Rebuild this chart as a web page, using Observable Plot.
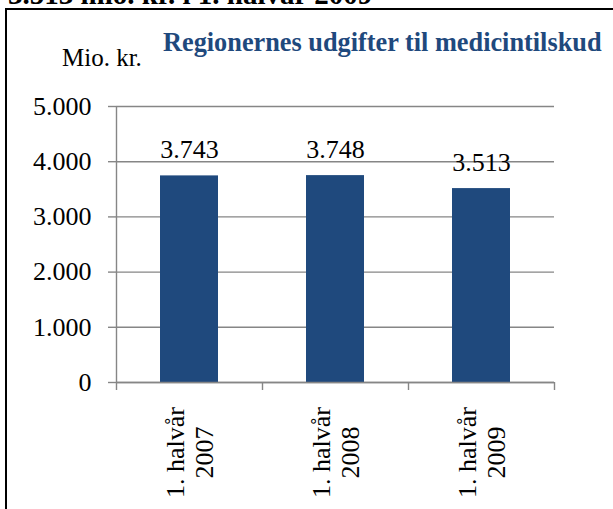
<!DOCTYPE html>
<html>
<head>
<meta charset="utf-8">
<script src="https://cdn.jsdelivr.net/npm/d3@7"></script>
<script src="https://cdn.jsdelivr.net/npm/@observablehq/plot@0.6"></script>
<style>
  html, body { margin: 0; padding: 0; background: #fff; }
  #wrap { position: relative; width: 613px; height: 509px; overflow: hidden; font-family: "Liberation Serif", "Times New Roman", serif; }
  #wrap svg { position: absolute; left: 0; top: 0; }
  .abs { position: absolute; white-space: nowrap; }
  #cut { left: 8px; top: -20px; font-size: 29px; font-weight: bold; color: #000; line-height: 1; }
  #border { left: 5px; top: 8px; right: -4px; bottom: -4px; border-top: 2px solid #000; border-left: 2px solid #000; }
  #title { left: 163px; top: 30px; font-size: 26.3px; font-weight: bold; color: #1F497D; line-height: 1; }
  #unit { left: 62px; top: 45px; font-size: 25px; color: #000; line-height: 1; }
</style>
</head>
<body>
<div id="wrap">
  <div id="cut" class="abs">3.513 mio. kr. i 1. halvår 2009</div>
  <div id="border" class="abs"></div>
  <div id="title" class="abs">Regionernes udgifter til medicintilskud</div>
  <div id="unit" class="abs">Mio. kr.</div>
</div>
<script>
const categories = ["1. halvår\n2007", "1. halvår\n2008", "1. halvår\n2009"];
const values = [3743, 3748, 3513];
const valueLabels = ["3.743", "3.748", "3.513"];
const yTicks = [0, 1000, 2000, 3000, 4000, 5000];
const yTickLabels = ["0", "1.000", "2.000", "3.000", "4.000", "5.000"];

const data = categories.map((c, i) => ({cat: c, value: values[i], label: valueLabels[i]}));
const gridColor = "#868686";

const chart = Plot.plot({
  width: 613,
  height: 509,
  marginLeft: 116,
  marginRight: 59,
  marginTop: 106,
  marginBottom: 127,
  style: {fontFamily: "'Liberation Serif', 'Times New Roman', serif", fontSize: "26px", color: "#000", background: "transparent", overflow: "visible"},
  x: {domain: categories, paddingInner: 0.6, paddingOuter: 0.3, axis: null},
  y: {domain: [0, 5000], axis: null},
  marks: [
    Plot.gridY(yTicks, {stroke: gridColor, strokeOpacity: 1, strokeWidth: 1.4}),
    Plot.axisY({ticks: yTicks, tickFormat: (d) => yTickLabels[yTicks.indexOf(d)], tickSize: 8, tickPadding: 17, fontSize: 26, stroke: gridColor, strokeOpacity: 1, strokeWidth: 1.4, label: null}),
    Plot.barY(data, {x: "cat", y: "value", fill: "#1F497D"}),
    Plot.ruleY([0], {stroke: gridColor, strokeWidth: 1.4}),
    Plot.ruleX(categories.slice(0, 1), {x: (d) => d, dx: -73, stroke: gridColor, strokeWidth: 1.4, insetBottom: -8}),
    Plot.ruleX(categories.slice(1), {x: (d) => d, y1: 0, y2: 0, dx: -73, stroke: gridColor, strokeWidth: 1.4, insetBottom: -8}),
    Plot.ruleX(categories.slice(-1), {x: (d) => d, y1: 0, y2: 0, dx: 73, stroke: gridColor, strokeWidth: 1.4, insetBottom: -8}),
    Plot.text(data, {x: "cat", y: "value", text: "label", dy: -18, lineAnchor: "bottom", fontSize: 26, fill: "#000"}),
    Plot.text(data, {x: "cat", text: "cat", frameAnchor: "bottom", dy: 70, rotate: -90, textAnchor: "middle", lineAnchor: "middle", lineHeight: 1.08, fontSize: 26, fill: "#000"})
  ]
});
document.getElementById("wrap").insertBefore(chart, document.getElementById("title"));
</script>
</body>
</html>
